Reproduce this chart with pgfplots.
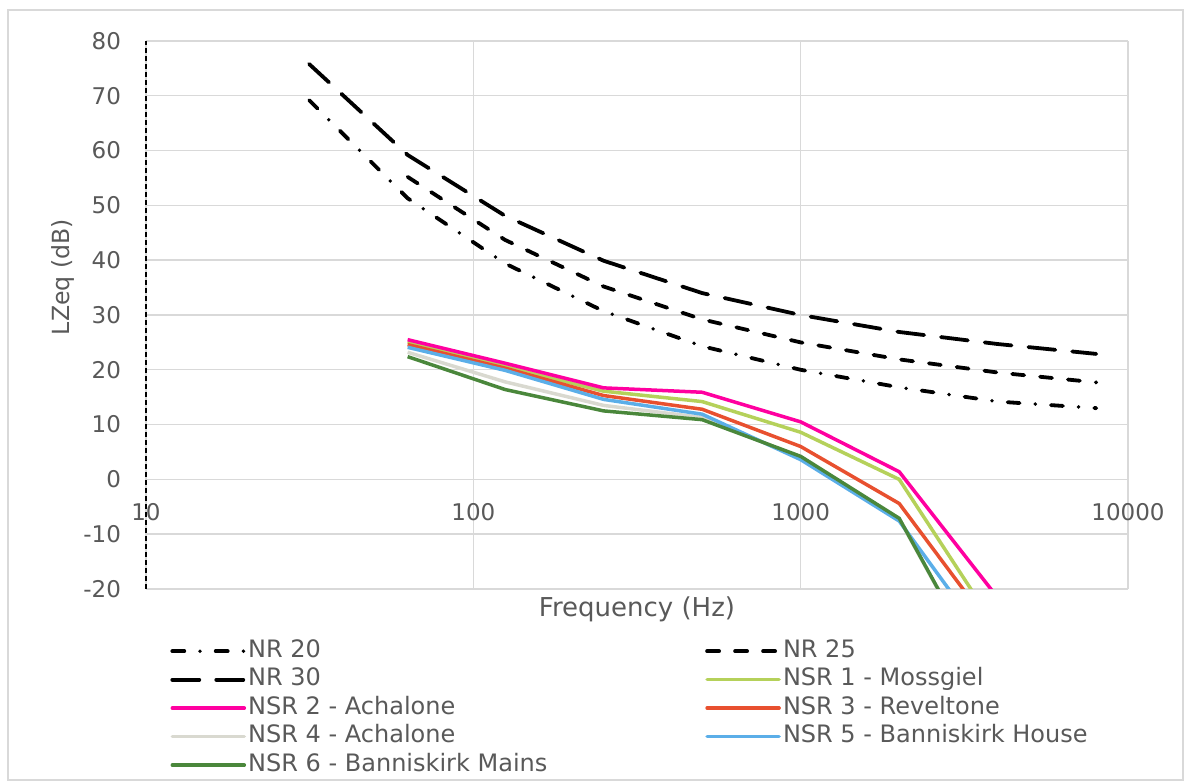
\documentclass[border=0pt]{standalone}
\usepackage{pgfplots}
\pgfplotsset{compat=1.18}
\usepackage{fontspec}
\setmainfont{DejaVu Sans}

\definecolor{txt}{HTML}{595959}
\definecolor{gridc}{HTML}{D9D9D9}
\definecolor{nsrone}{HTML}{B5D15A}
\definecolor{nsrtwo}{HTML}{FF00A0}
\definecolor{nsrthree}{HTML}{E8502F}
\definecolor{nsrfour}{HTML}{D9D9D0}
\definecolor{nsrfive}{HTML}{5BAEE8}
\definecolor{nsrsix}{HTML}{4A873B}

\newcommand{\tf}{\fontsize{11.5}{13}\selectfont}
\newcommand{\lf}{\fontsize{12}{14}\selectfont}

\begin{document}
\begin{tikzpicture}
    \begin{axis}[
            at={(0,0)}, anchor=south west,
            scale only axis,
            width=491pt, height=274pt,
            xmode=log,
            xmin=10, xmax=10000,
            ymin=-20, ymax=80,
            xtick={10,100,1000,10000},
            xticklabels={10,100,1000,10000},
            ytick={-20,-10,0,10,20,30,40,50,60,70,80},
            yticklabels={-20,-10,0,10,20,30,40,50,60,70,80},
            minor xtick={},
            xminorticks=false,
            grid=major,
            major grid style={color=gridc, line width=0.7pt},
            major tick length=0pt,
            minor tick length=0pt,
            axis x line*=bottom,
            axis y line*=left,
            x axis line style={draw=none},
            y axis line style={-, black, line width=0.75pt, dash pattern=on 2.5pt off 1.5pt},
            tick label style={font=\tf, text=txt},
            xticklabel style={anchor=center, yshift=38.5pt},
            yticklabel style={xshift=-9pt},
            xlabel={Frequency (Hz)},
            ylabel={LZeq (dB)},
            xlabel style={font=\fontsize{13}{15}\selectfont, text=txt,
                    at={(axis description cs:0.5,-0.0365)}, anchor=center},
            ylabel style={font=\fontsize{11.8}{14}\selectfont, text=txt,
                    at={(axis description cs:-0.0845,0.569)}, anchor=center},
            legend columns=2,
            legend cell align=left,
            legend image code/.code={\draw[#1, line cap=round] (0pt,0pt) -- (36pt,0pt);},
            legend style={draw=none, fill=none, font=\lf,
                    at={(axis description cs:0,0)}, anchor=north west,
                    xshift=12pt, yshift=-24.4pt,
                    inner sep=0pt, column sep=0pt, row sep=1.25pt,
                    nodes={inner sep=1pt, text height=8.5pt, text depth=2.5pt, text=txt}},
        ]

        \addplot[black, line width=1.9pt, line cap=round, dash pattern=on 6pt off 7.85pt on 0pt off 7.85pt] coordinates {
                (31.5,69.2) (63,51.3) (125,39.4) (250,30.7) (500,24.3)
                (1000,20.0) (2000,16.8) (4000,14.2) (8000,13.0)
            };
        \addlegendentry{\makebox[227.5pt][l]{NR 20}}

        \addplot[black, line width=1.9pt, line cap=round, dash pattern=on 6pt off 8pt] coordinates {
                (63,55.2) (125,43.7) (250,35.2) (500,29.2)
                (1000,25.0) (2000,21.9) (4000,19.5) (8000,17.7)
            };
        \addlegendentry{NR 25}

        \addplot[black, line width=1.9pt, line cap=round, dash pattern=on 13.5pt off 8.5pt] coordinates {
                (31.5,75.8) (63,59.2) (125,48.1) (250,39.9) (500,34.0)
                (1000,30.0) (2000,26.9) (4000,24.7) (8000,22.9)
            };
        \addlegendentry{\makebox[227.5pt][l]{NR 30}}

        \addplot[nsrone, line width=1.75pt] coordinates {
                (63,25.1) (125,20.6) (250,16.1) (500,14.2)
                (1000,8.6) (2000,0.0) (4000,-27.5)
            };
        \addlegendentry{NSR 1 - Mossgiel}

        \addplot[nsrtwo, line width=1.75pt] coordinates {
                (63,25.5) (125,21.2) (250,16.7) (500,15.9)
                (1000,10.5) (2000,1.4) (4000,-21.6)
            };
        \addlegendentry{\makebox[227.5pt][l]{NSR 2 - Achalone}}

        \addplot[nsrthree, line width=1.75pt] coordinates {
                (63,24.6) (125,20.3) (250,15.3) (500,12.8)
                (1000,6.0) (2000,-4.4) (4000,-28.5)
            };
        \addlegendentry{NSR 3 - Reveltone}

        \addplot[nsrfour, line width=1.75pt] coordinates {
                (63,23.2) (125,17.8) (250,13.5) (500,11.3)
                (1000,4.0) (2000,-7.2) (4000,-40.0)
            };
        \addlegendentry{\makebox[227.5pt][l]{NSR 4 - Achalone}}

        \addplot[nsrfive, line width=1.75pt] coordinates {
                (63,24.1) (125,19.9) (250,14.6) (500,11.9)
                (1000,3.6) (2000,-7.6) (4000,-32.3)
            };
        \addlegendentry{NSR 5 - Banniskirk House}

        \addplot[nsrsix, line width=1.75pt] coordinates {
                (63,22.4) (125,16.4) (250,12.5) (500,10.9)
                (1000,4.2) (2000,-7.1) (4000,-39.8)
            };
        \addlegendentry{\makebox[227.5pt][l]{NSR 6 - Banniskirk Mains}}

    \end{axis}
    \draw[gridc, line width=0.7pt] (-69pt,-95.5pt) rectangle (518.5pt,289.5pt);
    \pgfresetboundingbox
    \useasboundingbox (-73pt,-96pt) rectangle (519pt,294.5pt);
\end{tikzpicture}
\end{document}
